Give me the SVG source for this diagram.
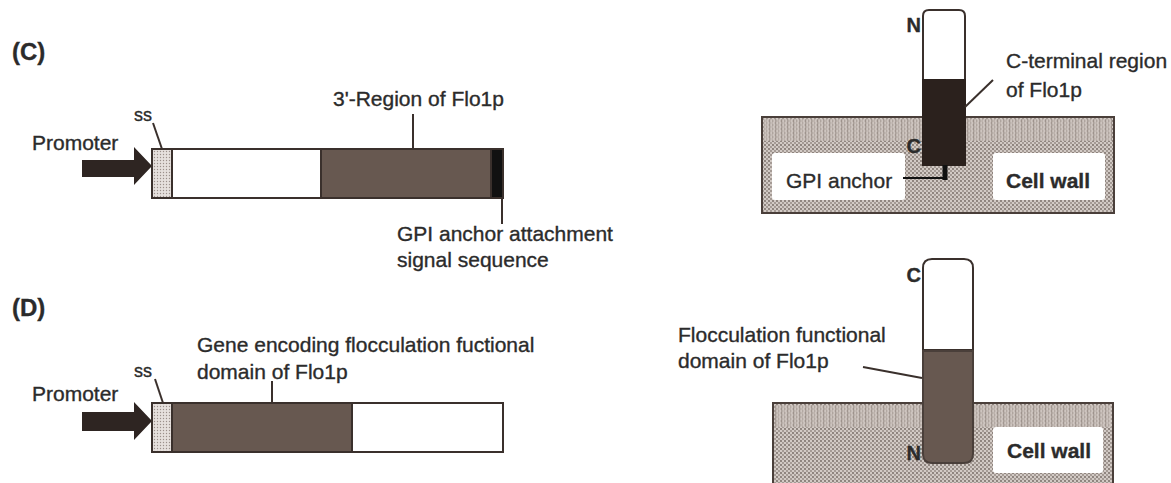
<svg xmlns="http://www.w3.org/2000/svg" width="1171" height="483" viewBox="0 0 1171 483">
<style>
text{font-family:"Liberation Sans",Arial,sans-serif;fill:#2b2b2b;font-size:21px;stroke:#2b2b2b;stroke-width:0.35}
.b{font-weight:bold}
.lbl{font-size:24px;font-weight:bold}
.ss{font-size:18px}
.term{font-size:20px;font-weight:bold}
.edge{fill:none;stroke:#3a302c;stroke-width:2}
.bar{stroke:#3a302c;stroke-width:2}
.dark{fill:#675850}
.white{fill:#fff}
.wallbox{fill:#fff}
</style>
<defs>
<pattern id="wall" width="4" height="4" patternUnits="userSpaceOnUse">
<rect width="4" height="4" fill="#d2cac5"/>
<circle cx="1" cy="1" r="0.9" fill="#70645e"/>
<circle cx="3" cy="3" r="0.9" fill="#8f847e"/>
</pattern>
<pattern id="wallTop" width="6" height="4" patternUnits="userSpaceOnUse">
<rect width="6" height="4" fill="#cdc4bf"/>
<rect x="1" width="1.3" height="4" fill="#a0958f"/>
<rect x="4" width="1" height="4" fill="#b6aca6"/>
</pattern>
<pattern id="ssp" width="3" height="3" patternUnits="userSpaceOnUse">
<rect width="3" height="3" fill="#e6e0dd"/>
<circle cx="1.5" cy="1.5" r="0.7" fill="#9b908b"/>
</pattern>
</defs>
<rect width="1171" height="483" fill="#fff"/>

<!-- Panel C -->
<g id="labelC"><text class="lbl" x="12" y="60">(C)</text></g>
<g id="promoterC">
<text x="32" y="150">Promoter</text>
<path d="M82,160 H134 V147 L152,166 L134,185 V177 H82 Z" fill="#2e2522"/>
</g>
<g id="ssC"><text class="ss" x="134" y="121">ss</text></g>
<g id="constructC">
<rect x="152" y="149" width="20" height="49" fill="url(#ssp)" class="bar"/>
<rect x="172" y="149" width="149" height="49" class="white bar"/>
<rect x="321" y="149" width="170" height="49" class="dark bar"/>
<rect x="491" y="149" width="12" height="49" fill="#111" class="bar"/>
</g>
<g id="regionC"><text x="333" y="106">3'-Region of Flo1p</text></g>
<g id="gpiSignal">
<text x="397" y="241">GPI anchor attachment</text>
<text x="397" y="267">signal sequence</text>
</g>

<!-- Panel D -->
<g id="labelD"><text class="lbl" x="12" y="316">(D)</text></g>
<g id="promoterD">
<text x="32" y="401">Promoter</text>
<path d="M82,412 H134 V402 L152,421 L134,440 V431 H82 Z" fill="#2e2522"/>
</g>
<g id="ssD"><text class="ss" x="134" y="377">ss</text></g>
<g id="constructD">
<rect x="152" y="403" width="20" height="49" fill="url(#ssp)" class="bar"/>
<rect x="172" y="403" width="180" height="49" class="dark bar"/>
<rect x="352" y="403" width="151" height="49" class="white bar"/>
</g>
<g id="domainD">
<text x="197" y="352">Gene encoding flocculation fuctional</text>
<text x="197" y="379">domain of Flo1p</text>
</g>

<!-- Top right: GPI anchored -->
<g id="wallTopPanel">
<rect x="762" y="117" width="352" height="96" fill="url(#wall)" stroke="#4a3f3a" stroke-width="2"/>
<rect x="764" y="119" width="348" height="22" fill="url(#wallTop)" opacity="0.8"/>
<rect x="772" y="153" width="133" height="47" rx="3" class="wallbox"/>
<rect x="993" y="153" width="112" height="47" rx="3" class="wallbox"/>
<text x="786" y="188">GPI anchor</text>
<text class="b" x="1006" y="188">Cell wall</text>
</g>
<g id="proteinTop">
<path d="M923,80 V16 Q923,10 929,10 H959 Q965,10 965,16 V80 Z" class="white" stroke="#3a302c" stroke-width="2"/>
<rect x="923" y="80" width="42" height="85" fill="#2b211d" stroke="#2b211d" stroke-width="2"/>
<text class="term" x="921" y="32" text-anchor="end">N</text>
<text class="term" x="921" y="153" text-anchor="end">C</text>
</g>
<g id="cterm">
<text x="1006" y="68">C-terminal region</text>
<text x="1006" y="97">of Flo1p</text>
</g>

<!-- Bottom right: flocculation domain -->
<g id="wallBottomPanel">
<path d="M773,483 V403 H1113 V483" fill="url(#wall)" stroke="#4a3f3a" stroke-width="2"/>
<rect x="775" y="405" width="336" height="22" fill="url(#wallTop)" opacity="0.8"/>
<rect x="993" y="427" width="110" height="46" rx="3" class="wallbox"/>
<text class="b" x="1007" y="458">Cell wall</text>
</g>
<g id="proteinBottom">
<path d="M923,350 V268 Q923,259 932,259 H964 Q973,259 973,268 V350 Z" class="white" stroke="#3a302c" stroke-width="2"/>
<path d="M923,351 H973 V454 Q973,463 964,463 H932 Q923,463 923,454 Z" class="dark" stroke="#4a3f3a" stroke-width="2"/>
<text class="term" x="921" y="282" text-anchor="end">C</text>
<text class="term" x="921" y="460" text-anchor="end">N</text>
</g>
<g id="floccLabel">
<text x="678" y="342">Flocculation functional</text>
<text x="678" y="368">domain of Flo1p</text>
</g>

<!-- Connectors -->
<g id="connectors" class="edge">
<line x1="153" y1="123" x2="162" y2="149"/>
<line x1="413" y1="114" x2="413" y2="149"/>
<line x1="502" y1="198" x2="502" y2="224"/>
<line x1="155" y1="379" x2="163" y2="403"/>
<line x1="272" y1="381" x2="272" y2="403"/>
<line x1="993" y1="80" x2="965" y2="107"/>
<line x1="863" y1="367" x2="922" y2="378"/>
<path d="M903,178 H945" stroke="#111"/>
<path d="M945,165 V180" stroke="#111" stroke-width="5"/>
</g>
</svg>
